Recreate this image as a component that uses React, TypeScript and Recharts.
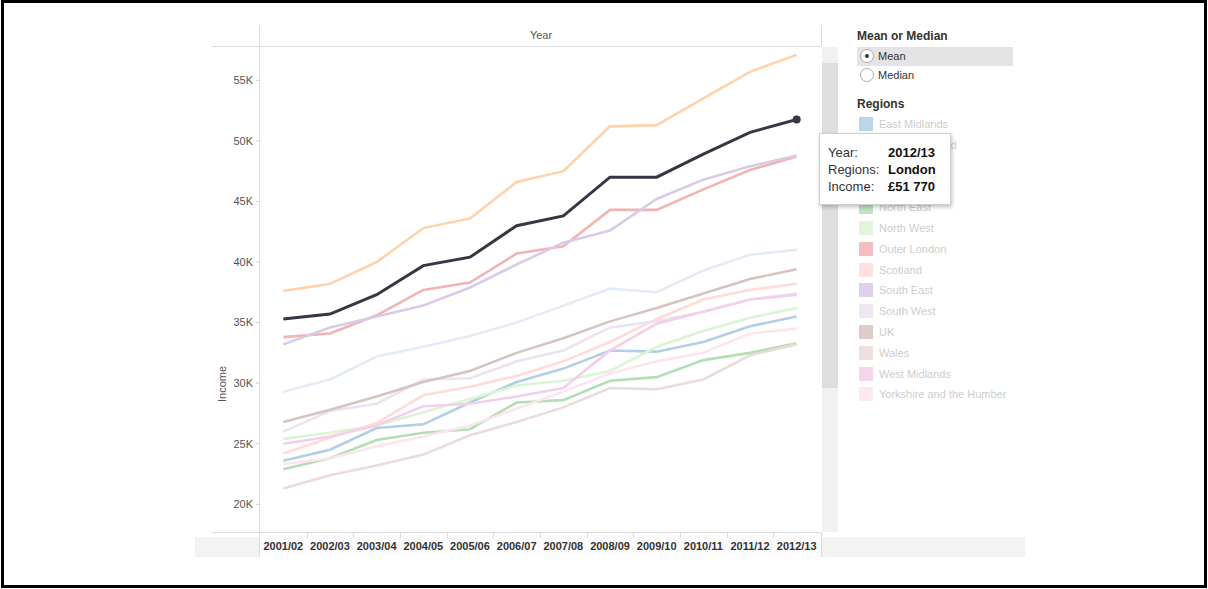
import React from "react";
import { LineChart, Line, XAxis, YAxis } from "recharts";

const years = [
  "2001/02", "2002/03", "2003/04", "2004/05", "2005/06", "2006/07",
  "2007/08", "2008/09", "2009/10", "2010/11", "2011/12", "2012/13",
];

const regions = [
  "East Midlands", "East of England", "Inner London", "London", "North East",
  "North West", "Outer London", "Scotland", "South East", "South West",
  "UK", "Wales", "West Midlands", "Yorkshire and the Humber",
];

// mean income by region
const eastMidlands = [23600, 24500, 26300, 26600, 28400, 30100, 31200, 32700, 32600, 33400, 34700, 35500];
const eastOfEngland = [29300, 30300, 32200, 33000, 33900, 35000, 36400, 37800, 37500, 39300, 40600, 41000];
const innerLondon = [37600, 38200, 40000, 42800, 43600, 46600, 47500, 51200, 51300, 53500, 55700, 57100];
const london = [35300, 35700, 37300, 39700, 40400, 43000, 43800, 47000, 47000, 48900, 50700, 51770];
const northEast = [22900, 23800, 25300, 25900, 26200, 28400, 28600, 30200, 30500, 31900, 32500, 33300];
const northWest = [25400, 25900, 26500, 27600, 28700, 29800, 30200, 31000, 33000, 34300, 35400, 36200];
const outerLondon = [33800, 34100, 35600, 37700, 38300, 40700, 41300, 44300, 44300, 46000, 47600, 48700];
const scotland = [24200, 25500, 26700, 29000, 29700, 30600, 31800, 33400, 35300, 36900, 37700, 38200];
const southEast = [33200, 34600, 35500, 36400, 37900, 39800, 41600, 42600, 45200, 46800, 47900, 48800];
const southWest = [26000, 27700, 28300, 30300, 30400, 31800, 32700, 34600, 35100, 35900, 36900, 37400];
const uk = [26800, 27800, 28900, 30100, 31000, 32500, 33700, 35100, 36200, 37400, 38600, 39400];
const wales = [21300, 22400, 23200, 24100, 25700, 26800, 28000, 29600, 29500, 30300, 32300, 33200];
const westMidlands = [25000, 25600, 26500, 28100, 28300, 28900, 29600, 32700, 34900, 35900, 36900, 37300];
const yorkshire = [23300, 23800, 24800, 25600, 26500, 27900, 29300, 30800, 31800, 32500, 34100, 34500];

const series = [
  eastMidlands, eastOfEngland, innerLondon, london, northEast, northWest, outerLondon,
  scotland, southEast, southWest, uk, wales, westMidlands, yorkshire,
];

const yTicks = [20000, 25000, 30000, 35000, 40000, 45000, 50000, 55000];
const yDomain = [17713, 57749];
const highlighted = "London";

const palette = [
  "#1f77b4", "#aec7e8", "#ff7f0e", "#ffbb78", "#2ca02c", "#98df8a", "#d62728",
  "#ff9896", "#9467bd", "#c5b0d5", "#8c564b", "#c49c94", "#e377c2", "#f7b6d2",
];

const fade = (hex: string, a: number) => {
  const n = parseInt(hex.slice(1), 16);
  const mix = (c: number) => Math.round(c * a + 255 * (1 - a));
  return `rgb(${mix((n >> 16) & 255)},${mix((n >> 8) & 255)},${mix(n & 255)})`;
};

const FONT = '"Liberation Sans", Arial, sans-serif';
const DARK = "#343845";

const data = years.map((year, i) => {
  const row: Record<string, string | number> = { year };
  regions.forEach((r, j) => (row[r] = series[j][i]));
  return row;
});

const XTick = ({ x, y, payload }: any) => (
  <text x={x} y={y + 18} textAnchor="middle" fontSize={11} fontWeight="bold" fill="#333" fontFamily={FONT}>
    {payload.value}
  </text>
);

const abs = (left: number, top: number, width: number, height: number, bg: string): React.CSSProperties => ({
  position: "absolute", left, top, width, height, background: bg,
});

export default function App() {
  const last = years.length - 1;
  const londonIdx = regions.indexOf(highlighted);
  const tipIncome = "£" + series[londonIdx][last].toLocaleString("en-US").replace(",", " ");

  return (
    <div style={{ position: "relative", width: 1208, height: 589, overflow: "hidden", background: "#fff", fontFamily: FONT }}>
      <style>{"body{margin:0}"}</style>

      {/* frame pieces of the dashboard */}
      <div style={abs(195, 537, 830, 20, "#f3f3f3")} />
      <div style={abs(260, 533, 562, 24, "#fcfcfc")} />
      <div style={abs(822, 47, 16, 485, "#f1f1f1")} />
      <div style={abs(822, 63, 16, 325, "#dedede")} />
      <div style={abs(212, 46, 610, 1, "#dcdcdc")} />
      <div style={abs(212, 532, 610, 1, "#dcdcdc")} />
      <div style={abs(259, 25, 1, 532, "#dcdcdc")} />
      <div style={abs(821, 25, 1, 22, "#dcdcdc")} />
      <div style={abs(821, 533, 1, 24, "#dcdcdc")} />
      {years.slice(1).map((_, i) => (
        <div key={i} style={abs(260 + ((i + 1) * 560) / 12, 533, 1, 5, "#dcdcdc")} />
      ))}
      <div style={{ position: "absolute", left: 260, top: 29, width: 562, textAlign: "center", fontSize: 11, color: "#555" }}>
        Year
      </div>
      <div
        style={{
          position: "absolute", left: 222, top: 384, fontSize: 11, color: "#555",
          transform: "translate(-50%, -50%) rotate(-90deg)", whiteSpace: "nowrap",
        }}
      >
        Income
      </div>

      <div style={{ position: "absolute", left: 0, top: 0 }}>
        <LineChart width={1208} height={589} data={data} margin={{ top: 47, right: 388, bottom: 27, left: 200 }}>
          <XAxis
            dataKey="year"
            height={30}
            padding={{ left: 23.3, right: 23.3 }}
            axisLine={false}
            tickLine={false}
            tickSize={0}
            tickMargin={0}
            interval={0}
            tick={<XTick />}
          />
          <YAxis
            type="number"
            width={60}
            domain={yDomain}
            ticks={yTicks}
            allowDataOverflow
            axisLine={false}
            tickSize={4}
            tickMargin={3}
            tickLine={{ stroke: "#cfcfcf" }}
            tick={{ fill: "#555", fontSize: 11, fontFamily: FONT }}
            tickFormatter={(v: number) => `${v / 1000}K`}
          />
          {regions
            .filter((r) => r !== highlighted)
            .map((r) => (
              <Line
                key={r}
                type="linear"
                dataKey={r}
                stroke={fade(palette[regions.indexOf(r)], 0.35)}
                strokeWidth={2.6}
                dot={false}
                activeDot={false}
                isAnimationActive={false}
              />
            ))}
          <Line
            type="linear"
            dataKey={highlighted}
            stroke={DARK}
            strokeWidth={3}
            isAnimationActive={false}
            activeDot={false}
            dot={(p: any) =>
              p.index === last ? (
                <circle key={"d" + p.index} cx={p.cx} cy={p.cy} r={4} fill={DARK} />
              ) : (
                <g key={"d" + p.index} />
              )
            }
          />
        </LineChart>
      </div>

      {/* filter and legend panel */}
      <div style={{ position: "absolute", left: 857, top: 29, fontSize: 12, fontWeight: "bold", color: "#333" }}>
        Mean or Median
      </div>
      {["Mean", "Median"].map((m, i) => (
        <div
          key={m}
          style={{
            position: "absolute", left: 857, top: 47 + i * 19, width: 156, height: 19,
            background: i === 0 ? "#e4e4e4" : "transparent",
          }}
        >
          <div
            style={{
              position: "absolute", left: 3, top: 2, width: 14, height: 14, borderRadius: "50%",
              border: "1px solid #aaa", background: "#fff", boxSizing: "border-box",
            }}
          >
            {i === 0 && (
              <div style={{ position: "absolute", left: 4, top: 4, width: 4, height: 4, borderRadius: "50%", background: "#333" }} />
            )}
          </div>
          <div style={{ position: "absolute", left: 21, top: 3, fontSize: 11, color: "#333" }}>{m}</div>
        </div>
      ))}
      <div style={{ position: "absolute", left: 857, top: 97, fontSize: 12, fontWeight: "bold", color: "#333" }}>
        Regions
      </div>
      {regions.map((r, i) => (
        <div key={r} style={{ position: "absolute", left: 859, top: 117 + i * 20.8, height: 14, whiteSpace: "nowrap" }}>
          <div style={{ position: "absolute", left: 0, top: 0, width: 14, height: 14, background: fade(palette[i], 0.3) }} />
          <div style={{ position: "absolute", left: 20, top: 0, fontSize: 11, color: "#cdcdcd", lineHeight: "14px" }}>{r}</div>
        </div>
      ))}

      {/* tooltip, drawn over the legend as in the original */}
      <div
        style={{
          position: "absolute", left: 819, top: 133, width: 132, height: 72, background: "#fff",
          border: "1px solid #cfcfcf", boxShadow: "1px 2px 4px rgba(0,0,0,0.25)", boxSizing: "border-box",
          fontSize: 13, color: "#333", lineHeight: "17px", paddingTop: 10,
        }}
      >
        {[
          ["Year:", years[last]],
          ["Regions:", highlighted],
          ["Income:", tipIncome],
        ].map(([k, v]) => (
          <div key={k} style={{ position: "relative", height: 17 }}>
            <span style={{ position: "absolute", left: 8 }}>{k}</span>
            <span style={{ position: "absolute", left: 68, fontWeight: "bold", color: "#111" }}>{v}</span>
          </div>
        ))}
      </div>

      <div style={{ position: "absolute", left: 1, top: 0, right: 1, bottom: 1, border: "3px solid #000", pointerEvents: "none" }} />
    </div>
  );
}
